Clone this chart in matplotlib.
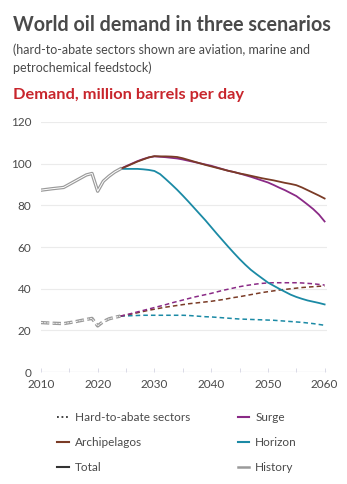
import numpy as np
import matplotlib
matplotlib.use('Agg')
import matplotlib.pyplot as plt
from matplotlib.lines import Line2D

plt.rcParams['font.family'] = ['Lato', 'DejaVu Sans']

# history
hist_years = [2010, 2012, 2014, 2016, 2018, 2019, 2020, 2021, 2022, 2023, 2024]
hist_total = [87.3, 88.0, 88.6, 91.6, 94.6, 95.3, 86.8, 91.6, 94.0, 96.0, 97.5]
hist_hta = [23.8, 23.5, 23.3, 24.2, 25.3, 25.8, 22.2, 24.3, 25.6, 26.3, 26.9]

# scenarios
years = [2024, 2025, 2026, 2027, 2028, 2029, 2030, 2031, 2032, 2033, 2034, 2035,
         2036, 2037, 2038, 2039, 2040, 2041, 2042, 2043, 2044, 2045, 2046, 2047,
         2048, 2049, 2050, 2051, 2052, 2053, 2054, 2055, 2056, 2057, 2058, 2059, 2060]
archipelagos = [97.5, 98.6, 99.8, 101.0, 102.0, 103.0, 103.6, 103.5, 103.5, 103.4, 103.2, 102.6,
                101.8, 101.0, 100.2, 99.4, 98.7, 98.0, 97.3, 96.6, 96.0, 95.3, 94.8, 94.2,
                93.6, 93.0, 92.5, 92.0, 91.4, 90.8, 90.3, 89.7, 88.6, 87.3, 86.0, 84.7, 83.3]
surge = [97.5, 98.8, 100.0, 101.2, 102.2, 103.0, 103.5, 103.3, 103.1, 102.8, 102.5, 102.0,
         101.4, 100.8, 100.2, 99.6, 99.0, 98.2, 97.4, 96.6, 96.0, 95.3, 94.5, 93.7,
         92.8, 91.9, 91.0, 89.8, 88.5, 87.3, 85.9, 84.5, 82.5, 80.4, 78.2, 75.6, 72.3]
horizon = [97.5, 97.5, 97.5, 97.5, 97.3, 97.0, 96.5, 95.0, 92.6, 90.1, 87.5, 84.7,
           81.8, 78.8, 75.8, 72.8, 69.6, 66.4, 63.3, 60.2, 57.2, 54.3, 51.6, 49.1,
           47.0, 45.0, 43.0, 41.5, 40.0, 38.6, 37.2, 36.1, 35.2, 34.4, 33.8, 33.2, 32.5]
arch_hta = [26.9, 27.4, 27.9, 28.5, 29.1, 29.7, 30.2, 30.7, 31.2, 31.6, 32.0, 32.4,
            32.8, 33.1, 33.4, 33.7, 34.0, 34.4, 34.8, 35.3, 35.8, 36.2, 36.7, 37.2,
            37.7, 38.2, 38.6, 39.0, 39.4, 39.7, 40.0, 40.3, 40.6, 40.8, 41.0, 41.2, 41.3]
surge_hta = [26.9, 27.5, 28.2, 28.9, 29.6, 30.3, 31.0, 31.7, 32.4, 33.2, 33.9, 34.6,
             35.3, 36.0, 36.6, 37.2, 37.8, 38.5, 39.2, 39.8, 40.4, 41.0, 41.5, 41.9,
             42.3, 42.6, 42.8, 42.9, 42.9, 42.9, 42.9, 42.9, 42.8, 42.6, 42.4, 42.1, 41.8]
horizon_hta = [26.9, 27.0, 27.1, 27.2, 27.3, 27.3, 27.3, 27.3, 27.3, 27.3, 27.3, 27.3,
               27.2, 27.0, 26.8, 26.6, 26.5, 26.3, 26.1, 25.9, 25.7, 25.5, 25.4, 25.3,
               25.2, 25.1, 25.0, 24.9, 24.7, 24.5, 24.3, 24.1, 23.9, 23.6, 23.3, 22.9, 22.5]

c_arch = '#7a3b26'
c_surge = '#8a2a86'
c_horizon = '#1b8aa5'
c_hist = '#9a9a9a'
c_total = '#333333'
c_text = '#4a4a4a'

fig = plt.figure(figsize=(3.47, 4.84), dpi=100)
ax = fig.add_axes([0.118, 0.231, 0.824, 0.517])

for y in range(20, 121, 20):
    ax.axhline(y, color='#ebebeb', lw=0.8, zorder=0)
ax.axhline(0, color='#d9d9e6', lw=0.9, zorder=0)

dash = (0, (3, 2))
ax.plot(years, horizon_hta, color=c_horizon, lw=1.1, ls=dash, zorder=3)
ax.plot(years, arch_hta, color=c_arch, lw=1.1, ls=dash, zorder=3)
ax.plot(years, surge_hta, color=c_surge, lw=1.1, ls=dash, zorder=3)
ax.plot(years, horizon, color=c_horizon, lw=1.3, zorder=3)
ax.plot(years, surge, color=c_surge, lw=1.3, zorder=3)
ax.plot(years, archipelagos, color=c_arch, lw=1.3, zorder=3)

# history drawn as a hollow grey line
ax.plot(hist_years, hist_total, color=c_hist, lw=2.4, zorder=4)
ax.plot(hist_years, hist_total, color='white', lw=0.7, zorder=5)
ax.plot(hist_years, hist_hta, color=c_hist, lw=2.4, ls=(0, (2.5, 1)), zorder=4)
ax.plot(hist_years, hist_hta, color='white', lw=0.6, ls=(0, (2.5, 1)), zorder=5)

ax.set_xlim(2010, 2060.4)
ax.set_ylim(0, 120)
ax.set_yticks(range(0, 121, 20))
ax.set_xticks(range(2010, 2061, 10))
ax.set_xticks(range(2010, 2061, 5), minor=True)
for s in ax.spines.values():
    s.set_visible(False)
ax.tick_params(axis='y', length=0, pad=7, labelsize=8.5, labelcolor=c_text)
ax.tick_params(axis='x', which='both', length=3, width=0.7, color='#d9d9e6',
               pad=5, labelsize=8.5, labelcolor=c_text, direction='in')

fig.text(0.038, 0.935, 'World oil demand in three scenarios', fontsize=14.2,
         fontweight='bold', color=c_text, va='baseline')
fig.text(0.038, 0.888, '(hard-to-abate sectors shown are aviation, marine and',
         fontsize=9.0, color=c_text, va='baseline')
fig.text(0.038, 0.852, 'petrochemical feedstock)', fontsize=9.0, color=c_text,
         va='baseline')
fig.text(0.038, 0.795, 'Demand, million barrels per day', fontsize=11.8,
         fontweight='bold', color='#c8252c', va='baseline')

handles = [
    Line2D([], [], color=c_total, lw=1.3, ls=(0, (1, 1.5))),
    Line2D([], [], color=c_arch, lw=1.5),
    Line2D([], [], color=c_total, lw=1.5),
    Line2D([], [], color=c_surge, lw=1.5),
    Line2D([], [], color=c_horizon, lw=1.5),
    Line2D([], [], color=c_hist, lw=1.8),
]
labels = ['Hard-to-abate sectors', 'Archipelagos', 'Total', 'Surge', 'Horizon', 'History']
leg = fig.legend(handles, labels, ncol=2, loc='upper left', bbox_to_anchor=(0.152, 0.158),
                 frameon=False, fontsize=8.5, handlelength=1.0, handletextpad=0.5,
                 columnspacing=4.0, labelspacing=1.16, borderaxespad=0)
for t in leg.get_texts():
    t.set_color(c_text)

fig.savefig('out.png', dpi=100)
